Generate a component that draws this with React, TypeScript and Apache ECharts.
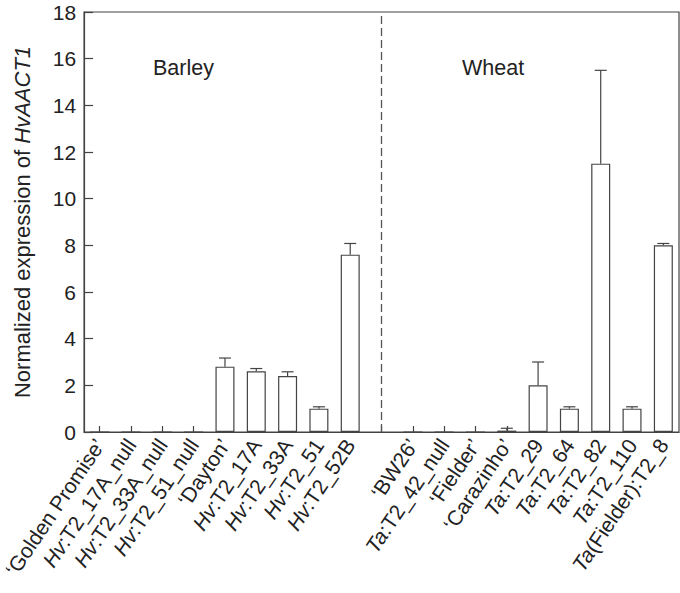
import React, { useEffect, useRef } from "react";
import * as echarts from "echarts";

const categories = [
  "‘Golden Promise’",
  "Hv:T2_17A_null",
  "Hv:T2_33A_null",
  "Hv:T2_51_null",
  "‘Dayton’",
  "Hv:T2_17A",
  "Hv:T2_33A",
  "Hv:T2_51",
  "Hv:T2_52B",
  "",
  "‘BW26’",
  "Ta:T2_42_null",
  "‘Fielder’",
  "‘Carazinho’",
  "Ta:T2_29",
  "Ta:T2_64",
  "Ta:T2_82",
  "Ta:T2_110",
  "Ta(Fielder):T2_8",
];

const values: (number | null)[] = [
  0, 0, 0, 0, 2.8, 2.6, 2.4, 1.0, 7.6,
  null,
  0, 0, 0, 0.06, 2.0, 1.0, 11.5, 1.0, 8.0,
];

const errors: (number | null)[] = [
  null, null, null, null, 0.37, 0.12, 0.18, 0.08, 0.48,
  null,
  null, null, null, 0.1, 1.0, 0.08, 4.0, 0.08, 0.08,
];

const yTicks = { min: 0, max: 18, interval: 2 };
const groupLabels = ["Barley", "Wheat"];
const dividerIndex = 9;

const FONT = "'Liberation Sans', Arial, Helvetica, sans-serif";
const TEXT = "#222";
const LINE = "#444";
const XFS = 21;

function formatLabel(v: string) {
  const m = v.match(/^(Hv|Ta)(.*)$/);
  if (m) return `{i|${m[1]}}{n|${m[2]}}`;
  return `{n|${v}}`;
}

export default function App() {
  const ref = useRef<HTMLDivElement>(null);
  useEffect(() => {
    if (!ref.current) return;
    const chart = echarts.init(ref.current, null, { renderer: "svg" });
    const errData = categories
      .map((_, i) => [i, values[i], errors[i]])
      .filter((d) => d[2] != null && d[1] != null);
    chart.setOption({
      animation: false,
      backgroundColor: "#fff",
      textStyle: { fontFamily: FONT },
      grid: {
        left: 81,
        right: 1,
        top: 12,
        bottom: 161,
        show: true,
        borderColor: LINE,
        borderWidth: 1.2,
        backgroundColor: "transparent",
      },
      xAxis: {
        type: "category",
        data: categories,
        boundaryGap: true,
        axisLine: { show: true, lineStyle: { color: LINE, width: 1.2 } },
        axisTick: {
          show: true,
          inside: true,
          alignWithLabel: true,
          length: 6,
          lineStyle: { color: LINE, width: 1.2 },
        },
        axisLabel: {
          interval: 0,
          rotate: 56,
          margin: 9,
          color: TEXT,
          fontSize: XFS,
          fontFamily: FONT,
          formatter: (v: string) => formatLabel(v),
          rich: {
            i: { fontStyle: "italic", fontSize: XFS, color: TEXT, fontFamily: FONT },
            n: { fontSize: XFS, color: TEXT, fontFamily: FONT },
          },
        },
        splitLine: { show: false },
      },
      yAxis: {
        type: "value",
        min: yTicks.min,
        max: yTicks.max,
        interval: yTicks.interval,
        name: "{n|Normalized expression of }{i|HvAACT1}",
        nameLocation: "middle",
        nameGap: 51,
        nameRotate: 90,
        nameTextStyle: {
          fontSize: 22,
          color: TEXT,
          fontFamily: FONT,
          rich: {
            n: { fontSize: 22, color: TEXT, fontFamily: FONT },
            i: { fontSize: 22, color: TEXT, fontFamily: FONT, fontStyle: "italic" },
          },
        },
        axisLine: { show: true, lineStyle: { color: LINE, width: 1.2 } },
        axisTick: {
          show: true,
          inside: true,
          length: 9,
          lineStyle: { color: LINE, width: 1.2 },
        },
        axisLabel: { color: TEXT, fontSize: 21, margin: 8, fontFamily: FONT },
        splitLine: { show: false },
      },
      graphic: [
        {
          type: "text",
          left: 153,
          top: 57,
          style: { text: groupLabels[0], font: `21.5px ${FONT}`, fill: TEXT },
        },
        {
          type: "text",
          left: 462,
          top: 57,
          style: { text: groupLabels[1], font: `21.5px ${FONT}`, fill: TEXT },
        },
      ],
      series: [
        {
          type: "bar",
          data: values.map((v) => (v == null ? "-" : v)),
          barWidth: 19,
          itemStyle: { color: "#fff", borderColor: LINE, borderWidth: 1.2 },
          z: 2,
          markLine: {
            silent: true,
            symbol: "none",
            label: { show: false },
            lineStyle: { type: [8, 4], color: "#555", width: 1.3 },
            data: [{ xAxis: dividerIndex }],
          },
        },
        {
          type: "custom",
          z: 3,
          data: errData,
          renderItem: (params: any, api: any) => {
            const x = api.value(0);
            const y = api.value(1);
            const e = api.value(2);
            const base = api.coord([x, y]);
            const top = api.coord([x, y + e]);
            const hw = 6;
            const style = { stroke: LINE, lineWidth: 1.2 };
            return {
              type: "group",
              children: [
                {
                  type: "line",
                  shape: { x1: base[0], y1: base[1], x2: top[0], y2: top[1] },
                  style,
                },
                {
                  type: "line",
                  shape: { x1: top[0] - hw, y1: top[1], x2: top[0] + hw, y2: top[1] },
                  style,
                },
              ],
            };
          },
        },
      ],
    });
    return () => chart.dispose();
  }, []);
  return (
    <div
      ref={ref}
      style={{ position: "fixed", left: 0, top: 0, width: 680, height: 593 }}
    />
  );
}
